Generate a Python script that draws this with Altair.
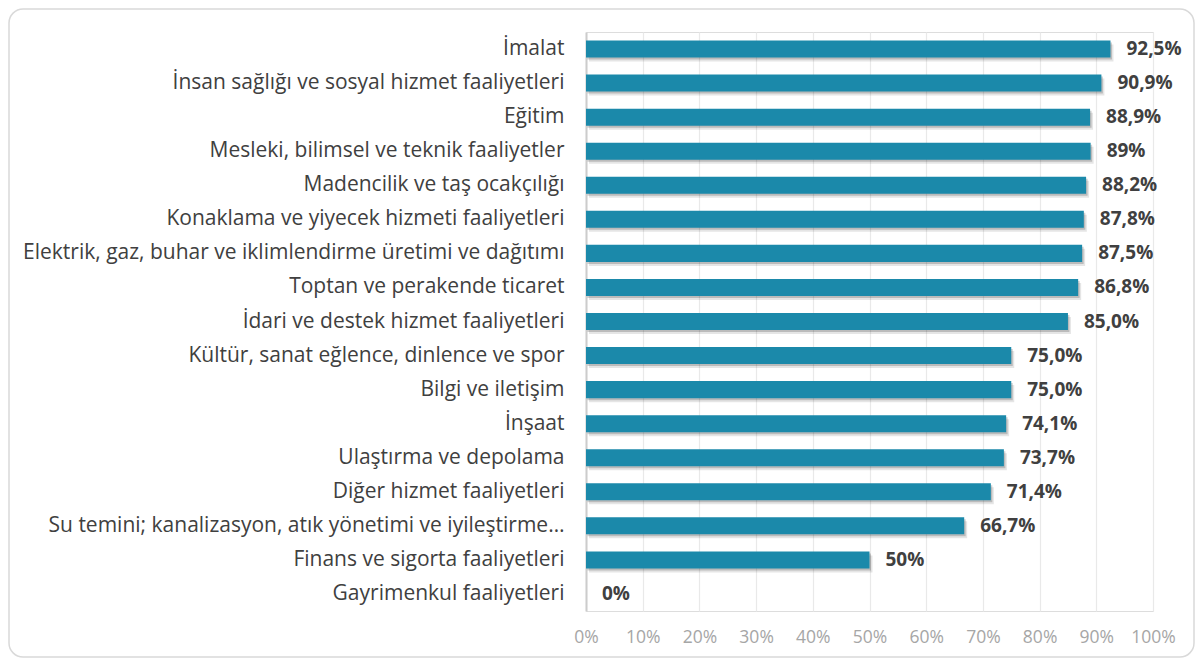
import altair as alt
import pandas as pd

categories = [
    "İmalat",
    "İnsan sağlığı ve sosyal hizmet faaliyetleri",
    "Eğitim",
    "Mesleki, bilimsel ve teknik faaliyetler",
    "Madencilik ve taş ocakçılığı",
    "Konaklama ve yiyecek hizmeti faaliyetleri",
    "Elektrik, gaz, buhar ve iklimlendirme üretimi ve dağıtımı",
    "Toptan ve perakende ticaret",
    "İdari ve destek hizmet faaliyetleri",
    "Kültür, sanat eğlence, dinlence ve spor",
    "Bilgi ve iletişim",
    "İnşaat",
    "Ulaştırma ve depolama",
    "Diğer hizmet faaliyetleri",
    "Su temini; kanalizasyon, atık yönetimi ve iyileştirme…",
    "Finans ve sigorta faaliyetleri",
    "Gayrimenkul faaliyetleri",
]
values = [0.925, 0.909, 0.889, 0.89, 0.882, 0.878, 0.875, 0.868, 0.850,
          0.750, 0.750, 0.741, 0.737, 0.714, 0.667, 0.50, 0.0]
value_labels = ["92,5%", "90,9%", "88,9%", "89%", "88,2%", "87,8%", "87,5%",
                "86,8%", "85,0%", "75,0%", "75,0%", "74,1%", "73,7%", "71,4%",
                "66,7%", "50%", "0%"]
x_ticks = [0, 0.1, 0.2, 0.3, 0.4, 0.5, 0.6, 0.7, 0.8, 0.9, 1.0]

df = pd.DataFrame({"cat": categories, "val": values, "lab": value_labels})

FONT = "Open Sans"
BAR = "#1B89AA"

y_enc = alt.Y("cat:N", sort=None, title=None,
              scale=alt.Scale(paddingInner=0.5, paddingOuter=0.25),
              axis=alt.Axis(labelFont=FONT, labelFontSize=21, labelColor="#404040",
                            labelPadding=22, ticks=False, domain=True,
                            domainColor="#cccccc", domainWidth=2,
                            labelLimit=600))
x_enc = alt.X("val:Q", title=None,
              scale=alt.Scale(domain=[0, 1], nice=False),
              axis=alt.Axis(values=x_ticks, format=".0%", labelFont=FONT,
                            labelFontSize=17.5, labelColor="#a6a6a6",
                            labelOverlap=False, labelFlush=False,
                            labelPadding=17, ticks=False, domain=False,
                            grid=True, gridColor="#e9e9e9", gridWidth=1.2))

base = alt.Chart(df)

shadow1 = base.mark_bar(color="#000000", opacity=0.10, xOffset=3, yOffset=4).encode(
    x=x_enc, y=y_enc)
shadow2 = base.mark_bar(color="#000000", opacity=0.18, xOffset=1.5, yOffset=2).encode(
    x=x_enc, y=y_enc)
bars = base.mark_bar(color=BAR).encode(x=x_enc, y=y_enc)
texts = base.mark_text(align="left", baseline="middle", dx=16, font=FONT,
                       fontSize=19, fontWeight="bold", color="#404040").encode(
    x=alt.X("val:Q"), y=alt.Y("cat:N", sort=None), text="lab:N")

frame = alt.Chart(pd.DataFrame({"a": [0]})).mark_rect(
    fill="white", fillOpacity=0, stroke="#d9d9d9", strokeWidth=1.5, cornerRadius=14
).encode(x=alt.value(-577), x2=alt.value(608), y=alt.value(-23), y2=alt.value(625))

chart = alt.layer(frame, shadow1, shadow2, bars, texts).properties(
    width=567, height=579,
    autosize=alt.AutoSizeParams(type="none"),
    padding={"left": 578, "top": 24, "right": 42, "bottom": 47},
).configure_view(stroke=None).configure(background="white")

chart.save("out.html", embed_options={"renderer": "svg", "actions": False})
